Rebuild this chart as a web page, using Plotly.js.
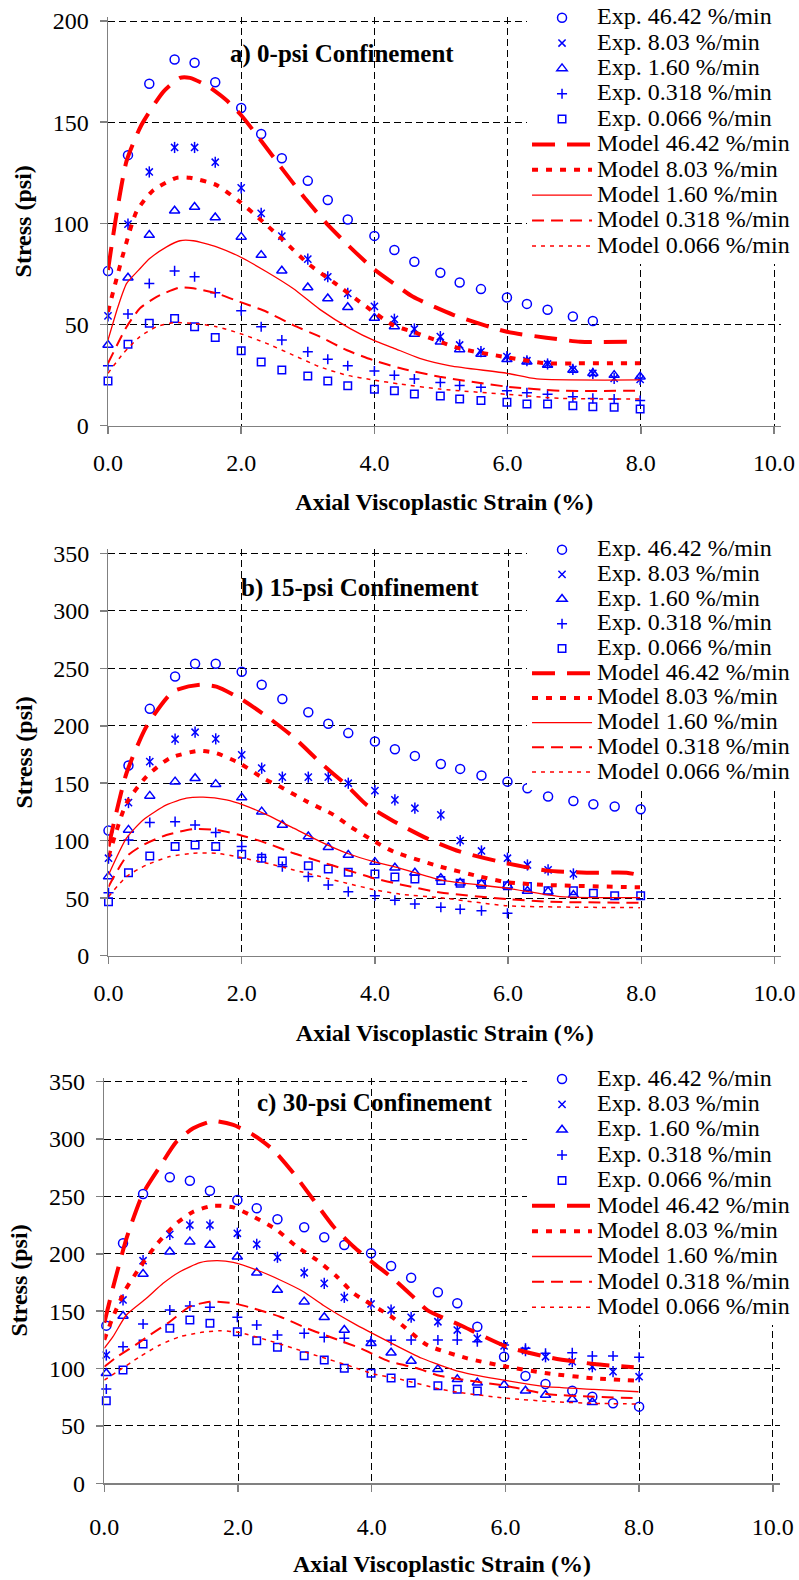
<!DOCTYPE html>
<html><head><meta charset="utf-8">
<script src="https://cdn.plot.ly/plotly-3.0.1.min.js"></script>
<style>html,body{margin:0;padding:0;background:#fff}</style>
</head><body><div id="chart" style="width:799px;height:1580px"></div>
<script>
// ---------- Experimental strain positions ----------
const expStrainAB = [0, 0.3, 0.62, 1.0, 1.3, 1.61, 2.0, 2.3, 2.61, 3.0, 3.3, 3.6, 4.0, 4.3, 4.6, 4.99, 5.28, 5.6, 5.99, 6.29, 6.6, 6.98, 7.28, 7.6, 7.99];
const expStrainC = [0.03, 0.28, 0.58, 0.98, 1.28, 1.58, 1.99, 2.28, 2.59, 2.99, 3.29, 3.59, 3.99, 4.29, 4.59, 4.99, 5.28, 5.58, 5.98, 6.3, 6.6, 7.0, 7.3, 7.61, 8.0];

// ---------- Panel a) 0-psi ----------
const expA_46 = [76.4, 133.7, 169, 181, 179.4, 169.7, 157, 144.2, 132.2, 121, 111.5, 101.9, 93.8, 86.8, 81, 75.6, 70.8, 67.5, 63.4, 60.2, 57.3, 54, 51.7];
const expA_8 = [54.3, 99.6, 125.4, 137.5, 137.5, 130.2, 117.5, 104.9, 93.7, 82.3, 73.6, 65.4, 59, 52.6, 47.8, 44, 39.9, 36.6, 34.1, 32.1, 30.5, 27.8, 25.9, 23.4, 22.9];
const expA_16 = [39.9, 73.1, 94.2, 106.2, 108.1, 102.9, 93.3, 84.3, 76.6, 68.3, 62.9, 58.5, 53.2, 49, 45.3, 41.5, 37.7, 35.4, 32.8, 31.6, 30.0, 27.5, 25.9, 25.0, 24.2];
const expA_03 = [29.6, 55.2, 70.3, 76.5, 73.6, 65.7, 56.8, 48.9, 42.3, 36.5, 32.8, 29.6, 27, 24.9, 23.1, 21.4, 19.9, 19.0, 17.3, 16.3, 15.5, 14.3, 13.5, 13.2, 12.4];
const expA_006 = [22.1, 40.3, 50.6, 53, 48.9, 43.6, 37, 31.5, 27.5, 24.5, 22.1, 19.8, 18, 17.3, 15.7, 14.7, 13.2, 12.4, 11.6, 10.7, 10.7, 9.9, 9.4, 9.1, 8.2];

const modA_46_x = [0, 0.13, 0.28, 0.5, 0.83, 1.08, 1.23, 1.48, 1.78, 2.0, 2.33, 2.63, 2.98, 3.28, 3.63, 3.98, 4.28, 4.58, 5.19, 5.99, 6.58, 7.09, 7.94];
const modA_46_y = [77, 104.9, 131, 148.5, 165, 171.9, 171.9, 168.2, 160.8, 153.4, 139.5, 126.3, 111.5, 100, 88.4, 77.7, 70.5, 63.7, 54.7, 46.4, 43.5, 41.5, 41.5];
const modA_8_x = [0, 0.23, 0.43, 0.68, 1.03, 1.23, 1.63, 1.98, 2.33, 2.63, 3.0, 3.38, 3.88, 4.28, 4.58, 5.28, 5.99, 6.58, 6.99, 7.99];
const modA_8_y = [56.3, 85.1, 106, 116.4, 122.5, 122.5, 118.9, 110.6, 100.7, 91.7, 80.2, 71.1, 58.8, 49.7, 46.4, 38.2, 33.8, 30.8, 30.8, 30.8];
const modA_16_x = [0, 0.15, 0.28, 0.46, 0.63, 0.88, 1.08, 1.28, 1.63, 1.98, 2.38, 2.78, 3.18, 3.63, 4.0, 4.28, 4.68, 5.14, 5.99, 6.44, 7.99];
const modA_16_y = [42.3, 58.8, 70.3, 76.9, 82.7, 88.4, 91.4, 91.4, 88.4, 83.5, 76.1, 67.8, 57.5, 48.1, 42, 38.5, 33.3, 29.6, 25.9, 23.1, 22.6];
const modA_03_x = [0, 0.28, 0.48, 0.73, 1.08, 1.28, 1.63, 1.98, 2.38, 2.78, 3.18, 3.58, 3.98, 4.38, 4.98, 5.99, 6.79, 7.99];
const modA_03_y = [30.8, 48.9, 58, 63.7, 68.3, 67.9, 65.4, 61.2, 56.3, 49.7, 44, 37.4, 32.4, 28.5, 24.2, 19.3, 17.3, 17.3];
const modA_006_x = [0, 0.23, 0.48, 0.73, 0.98, 1.28, 1.63, 1.98, 2.38, 2.78, 3.18, 3.58, 3.98, 4.38, 4.98, 5.99, 6.79, 7.99];
const modA_006_y = [25.9, 35.8, 44, 48.9, 50.9, 50.6, 48.9, 45.6, 40.7, 34.9, 29.1, 25, 22.6, 20.6, 18.1, 15.5, 13.5, 13.2];

// ---------- Panel b) 15-psi ----------
const expB_46 = [108.8, 165.4, 214.7, 242.8, 253.9, 253.9, 246.9, 235.6, 223.2, 211.8, 201.7, 193.6, 186.3, 179.6, 173.8, 166.8, 162.5, 156.7, 151.4, 145.7, 138.4, 134.6, 131.8, 129.7, 127.4];
const expB_8 = [84.8, 133.2, 168.8, 188.3, 194.4, 188.6, 174.7, 163.1, 155.3, 155.3, 155.3, 150, 143.6, 135.5, 128.3, 122.5, 100.1, 91.1, 84.8, 78.9, 74.6, 71.1];
const expB_16 = [68.8, 109.4, 139, 151.4, 154.4, 149.2, 137.5, 125.3, 113.7, 103.6, 94.3, 87.6, 81.4, 76.5, 72.2, 67.4, 63.5, 62.4, 60.9, 56.3, 55.7, 52.8];
const expB_03 = [54.8, 100.7, 115.8, 116.6, 113.7, 107.1, 94.9, 85.6, 77.5, 68.8, 61.5, 55.7, 52.2, 48.2, 45, 42.1, 40.4, 39.2, 36.9];
const expB_006 = [47, 72.2, 86.8, 94.9, 96.3, 94.9, 88.3, 84.8, 82.4, 78.3, 75.5, 72.6, 71.1, 68.5, 66.8, 65.3, 63, 62.1, 60.9, 60.1, 56.6, 56.6, 54.3, 52.2, 52.2];

const modB_46_x = [0, 0.27, 0.57, 0.97, 1.37, 1.62, 1.97, 2.38, 2.78, 3.18, 3.58, 3.88, 4.28, 4.78, 5.28, 5.98, 6.58, 7.18, 7.78, 7.96];
const modB_46_y = [95, 158.7, 199.3, 229.8, 235.6, 234.1, 224, 208, 190, 168, 148, 131, 117, 102, 90.5, 80.4, 74, 72.2, 72.2, 70.2];
const modB_8_x = [0, 0.27, 0.57, 0.92, 1.35, 1.62, 1.97, 2.32, 2.62, 2.98, 3.38, 3.63, 4.0, 4.28, 4.98, 5.58, 5.98, 6.58, 7.98];
const modB_8_y = [86.2, 132.6, 155.8, 171.8, 178.2, 176.1, 167.4, 154.4, 145.7, 134, 122.5, 112.3, 99.2, 90.5, 77.5, 68.8, 63.9, 61.5, 59.5];
const modB_16_x = [0, 0.27, 0.52, 0.87, 1.17, 1.42, 1.77, 2.02, 2.38, 2.78, 3.18, 3.58, 3.98, 4.38, 4.98, 5.98, 6.78, 7.98];
const modB_16_y = [70.2, 102.2, 118.1, 131.2, 137, 137.9, 135.5, 131.2, 122.5, 110.9, 99.2, 89.1, 81.8, 76, 65.9, 58.7, 51.4, 50.5];
const modB_03_x = [0, 0.27, 0.52, 0.87, 1.27, 1.62, 1.97, 2.38, 2.78, 3.18, 3.58, 3.98, 4.38, 4.98, 5.98, 6.58, 7.98];
const modB_03_y = [60, 86.2, 96.3, 105, 110, 109.4, 105, 97.8, 89.1, 81.8, 74.6, 67.4, 62, 55, 49.3, 47, 46];
const modB_006_x = [0, 0.27, 0.57, 0.92, 1.27, 1.62, 1.97, 2.38, 2.78, 3.18, 3.58, 3.98, 4.38, 4.98, 5.98, 7.98];
const modB_006_y = [51.3, 68.8, 78.9, 86.2, 89.1, 89.1, 85.6, 80.4, 74.6, 68.8, 63, 57.5, 53.5, 50.5, 43.5, 41.8];

// ---------- Panel c) 30-psi ----------
const expC_46 = [137.4, 209.2, 252.1, 266.7, 263.7, 255, 246.9, 239.7, 230.1, 223.1, 214.4, 207.7, 200.5, 189.4, 179.2, 166.5, 156.9, 136.5, 110.3, 93.5, 86.5, 80.7, 75.5, 69.7, 66.8];
const expC_8 = [111.8, 159.8, 194, 217, 225.1, 225.1, 217.9, 208.3, 197, 183.5, 174.3, 162.1, 156.3, 151, 144.7, 140.8, 133.6, 126.4, 119.7, 115.6, 110.3, 106, 101.6, 97.3, 92.9];
const expC_16 = [95.9, 145.8, 182.4, 201.8, 210.6, 207.7, 197.5, 183.5, 168.5, 158.3, 144.7, 133.6, 122, 113.8, 106.6, 99.4, 90.6, 87.7, 85.7, 80.7, 77, 73.2, 70.6];
const expC_03 = [82.2, 119.1, 138.8, 151, 154.5, 153.4, 144.7, 138, 129.2, 130.7, 127.2, 126.4, 124, 124.6, 124.9, 124.9, 124.9, 123.4, 120.5, 117.7, 113.3, 113.8, 110.9, 110.9, 109.8];
const expC_006 = [72, 98.7, 121.4, 135.1, 142.3, 139.4, 132.1, 124.3, 118.5, 111.2, 107.5, 100.2, 95.9, 91.8, 87.5, 85.1, 81.9, 80.4];

const modC_46_x = [0, 0.16, 0.34, 0.58, 0.83, 1.08, 1.33, 1.63, 1.93, 2.23, 2.53, 2.83, 3.13, 3.43, 3.73, 4.03, 4.33, 4.63, 4.83, 5.32, 6.02, 6.72, 7.32, 7.92];
const modC_46_y = [140, 177.2, 214.9, 252.7, 275.9, 297.7, 309.4, 315.8, 312.3, 303.6, 290.5, 270.2, 246.9, 223.6, 206.2, 191.7, 178, 162, 151, 138, 119, 109, 104, 101.1];
const modC_8_x = [0, 0.13, 0.31, 0.53, 0.78, 1.08, 1.33, 1.63, 1.93, 2.23, 2.58, 2.88, 3.18, 3.48, 3.73, 4.33, 4.83, 5.43, 6.02, 6.62, 7.32, 7.97];
const modC_8_y = [125, 145, 168, 188, 208, 226.6, 236.7, 241.9, 240.5, 232.4, 220.8, 206.2, 194.6, 180.1, 165.6, 143.8, 120.5, 108.9, 101.6, 95.9, 91.5, 89.4];
const modC_16_x = [0, 0.13, 0.33, 0.63, 0.88, 1.13, 1.43, 1.68, 1.93, 2.28, 2.63, 2.98, 3.28, 3.73, 4.25, 4.75, 5.32, 6.02, 6.62, 7.32, 7.99];
const modC_16_y = [117.7, 127.8, 146.7, 161.2, 174.3, 184.4, 192.3, 194, 192.6, 185.9, 177.2, 167, 155, 139.4, 123.5, 109, 97.3, 89.4, 84.2, 81.9, 79.8];
const modC_03_x = [0, 0.19, 0.43, 0.68, 0.98, 1.28, 1.58, 1.93, 2.23, 2.63, 3.03, 3.43, 3.83, 4.25, 4.68, 5.03, 6.02, 6.62, 7.32, 7.99];
const modC_03_y = [101.6, 110.3, 119.1, 129.2, 140.8, 153.9, 158.3, 156.9, 152.5, 145.2, 135.1, 126.4, 117.7, 106.5, 100.2, 93.5, 84.8, 77.8, 75.5, 74.1];
const modC_006_x = [0, 0.23, 0.53, 0.83, 1.13, 1.43, 1.73, 2.03, 2.43, 2.83, 3.23, 3.63, 4.03, 4.43, 5.03, 5.33, 6.02, 6.72, 7.32, 7.99];
const modC_006_y = [90, 98.7, 110.3, 120.5, 127.8, 131.3, 133, 131.3, 124.9, 117.7, 110.3, 103.1, 95.3, 90.6, 82, 79, 74.1, 71.1, 69.7, 69.1];

// ---------- labels ----------
const rateLabels = ['46.42', '8.03', '1.60', '0.318', '0.066'];
const panelTitles = ['a) 0-psi Confinement', 'b) 15-psi Confinement', 'c) 30-psi Confinement'];
const xTitle = 'Axial Viscoplastic Strain (%)';
const yTitle = 'Stress (psi)';
const xTickVals = [0, 2, 4, 6, 8, 10];

// ---------- styling ----------
const FONT = 'Liberation Serif, Times New Roman, serif';
const BLUE = '#0000ff', RED = '#ff0000';
const LEG_TXT = s => '<span style="font-size:24px">' + s + '</span>';

const expSymbols = [
  {symbol: 'circle-open', size: 9},
  {symbol: 'x-thin-open', size: 7.2, extra: {symbol: 'line-ns-open', size: 8}},
  {symbol: 'triangle-up-open', size: 9},
  {symbol: 'cross-thin-open', size: 7.2},
  {symbol: 'square-open', size: 7.5}
];
const modelStyles = [
  {width: 4, dash: '23px,12px'},
  {width: 4, dash: '6px,8px'},
  {width: 1.3, dash: 'solid'},
  {width: 2, dash: '12px,7px'},
  {width: 1.5, dash: '4px,5px'}
];

const panels = [
  {sfx: '', leg: 'legend', ex: expStrainAB, exp: [expA_46, expA_8, expA_16, expA_03, expA_006],
   mod: [[modA_46_x, modA_46_y], [modA_8_x, modA_8_y], [modA_16_x, modA_16_y], [modA_03_x, modA_03_y], [modA_006_x, modA_006_y]]},
  {sfx: '2', leg: 'legend2', ex: expStrainAB, exp: [expB_46, expB_8, expB_16, expB_03, expB_006],
   mod: [[modB_46_x, modB_46_y], [modB_8_x, modB_8_y], [modB_16_x, modB_16_y], [modB_03_x, modB_03_y], [modB_006_x, modB_006_y]]},
  {sfx: '3', leg: 'legend3', ex: expStrainC, exp: [expC_46, expC_8, expC_16, expC_03, expC_006],
   mod: [[modC_46_x, modC_46_y], [modC_8_x, modC_8_y], [modC_16_x, modC_16_y], [modC_03_x, modC_03_y], [modC_006_x, modC_006_y]]}
];

const traces = [];
panels.forEach(p => {
  const xa = 'x' + p.sfx, ya = 'y' + p.sfx;
  p.exp.forEach((vals, i) => {
    const s = expSymbols[i];
    const xs = p.ex.slice(0, vals.length);
    traces.push({type: 'scatter', mode: 'markers', x: xs, y: vals, xaxis: xa, yaxis: ya,
      legend: p.leg, name: LEG_TXT('Exp. ' + rateLabels[i] + ' %/min'), cliponaxis: false,
      marker: {symbol: s.symbol, size: s.size, color: BLUE, line: {color: BLUE, width: 1.5}}});
    if (s.extra) {
      traces.push({type: 'scatter', mode: 'markers', x: xs, y: vals, xaxis: xa, yaxis: ya,
        legend: p.leg, showlegend: false, cliponaxis: false, hoverinfo: 'skip',
        marker: {symbol: s.extra.symbol, size: s.extra.size, color: BLUE, line: {color: BLUE, width: 1.5}}});
    }
  });
  p.mod.forEach((xy, i) => {
    const st = modelStyles[i];
    traces.push({type: 'scatter', mode: 'lines', x: xy[0], y: xy[1], xaxis: xa, yaxis: ya,
      legend: p.leg, name: LEG_TXT('Model ' + rateLabels[i] + ' %/min'),
      line: {color: RED, width: st.width, dash: st.dash, shape: 'spline', smoothing: 0.6}});
  });
});

function xAxis(domain, anchor, labelStandoff, titleStandoff) {
  return {domain: domain, anchor: anchor, range: [0, 10.1], tickmode: 'array', tickvals: xTickVals,
    ticktext: xTickVals.map(v => v.toFixed(1)),
    showgrid: true, gridcolor: '#000', gridwidth: 1, griddash: '7px,4px', zeroline: false,
    showline: true, linecolor: '#808080', linewidth: 1.5, ticks: 'outside', ticklen: 7,
    tickcolor: '#808080', tickwidth: 1.5, ticklabelstandoff: labelStandoff,
    tickfont: {family: FONT, size: 24, color: '#000'},
    title: {text: '<b>' + xTitle + '</b>', font: {family: FONT, size: 24, color: '#000'}, standoff: titleStandoff}};
}
function yAxis(domain, anchor, top, dtick) {
  return {domain: domain, anchor: anchor, range: [0, top], tick0: 0, dtick: dtick,
    showgrid: true, gridcolor: '#000', gridwidth: 1, griddash: '7px,4px', zeroline: false,
    showline: true, linecolor: '#808080', linewidth: 1.5, ticks: 'outside', ticklen: 7,
    tickcolor: '#808080', tickwidth: 1.5, ticklabelstandoff: 6,
    tickfont: {family: FONT, size: 24, color: '#000'},
    title: {text: '<b>' + yTitle + '</b>', font: {family: FONT, size: 24, color: '#000'}, standoff: 14}};
}
function legendAt(yTop, fs) {
  return {x: 0.6596, xanchor: 'left', y: yTop, yanchor: 'top', bgcolor: '#fff', borderwidth: 0,
    itemwidth: 60, font: {family: FONT, size: fs, color: '#000'}, tracegroupgap: 0};
}

const layout = {
  width: 799, height: 1580, paper_bgcolor: '#fff', plot_bgcolor: '#fff',
  margin: {l: 0, r: 0, t: 0, b: 0, autoexpand: false},
  font: {family: FONT, color: '#000'},
  xaxis: xAxis([0.13517, 0.97705], 'y', 8, 18),
  yaxis: yAxis([0.73057, 0.98927], 'x', 202, 50),
  xaxis2: xAxis([0.13579, 0.97772], 'y2', 8, 19),
  yaxis2: yAxis([0.39513, 0.65235], 'x2', 353.5, 50),
  xaxis3: xAxis([0.13054, 0.97560], 'y3', 14, 16),
  yaxis3: yAxis([0.06120, 0.31792], 'x3', 353.5, 50),
  legend: legendAt(1.0, 17.2),
  legend2: legendAt(0.66310, 16.7),
  legend3: legendAt(0.32829, 17.2),
  annotations: [
    {text: '<b>' + panelTitles[0] + '</b>', x: 3.51, y: 183.5, xref: 'x', yref: 'y', showarrow: false,
     font: {family: FONT, size: 25, color: '#000'}},
    {text: '<b>' + panelTitles[1] + '</b>', x: 3.78, y: 320, xref: 'x2', yref: 'y2', showarrow: false,
     font: {family: FONT, size: 25, color: '#000'}},
    {text: '<b>' + panelTitles[2] + '</b>', x: 4.04, y: 331.4, xref: 'x3', yref: 'y3', showarrow: false,
     font: {family: FONT, size: 25, color: '#000'}}
  ],
  showlegend: true
};

Plotly.newPlot('chart', traces, layout, {staticPlot: true, displayModeBar: false});
</script></body></html>
